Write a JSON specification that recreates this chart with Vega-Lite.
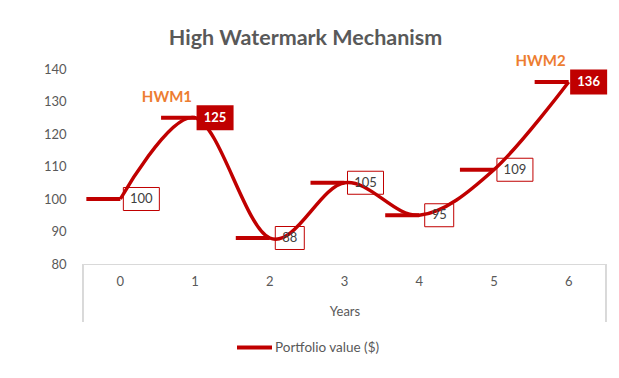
{
  "$schema": "https://vega.github.io/schema/vega-lite/v6.json",
  "width": 523,
  "height": 195,
  "autosize": {"type": "none"},
  "padding": {"left": 83, "top": 69, "right": 13, "bottom": 114},
  "background": "white",
  "config": {"font": "Lato", "view": {"stroke": null}},
  "title": {"text": "High Watermark Mechanism", "fontSize": 21.5, "fontWeight": "bold", "color": "#595959", "frame": "group", "anchor": "middle", "dx": -39, "offset": 5},
  "data": {"values": [
    {"year": 0, "value": 100, "note": "", "series": "Portfolio value ($)"},
    {"year": 1, "value": 125, "note": "HWM1", "series": "Portfolio value ($)"},
    {"year": 2, "value": 88, "note": "", "series": "Portfolio value ($)"},
    {"year": 3, "value": 105, "note": "", "series": "Portfolio value ($)"},
    {"year": 4, "value": 95, "note": "", "series": "Portfolio value ($)"},
    {"year": 5, "value": 109, "note": "", "series": "Portfolio value ($)"},
    {"year": 6, "value": 136, "note": "HWM2", "series": "Portfolio value ($)"}
  ]},
  "encoding": {
    "x": {"field": "year", "type": "ordinal",
      "scale": {"type": "band", "paddingInner": 0, "paddingOuter": 0},
      "axis": {"title": "Years", "labelAngle": 0, "domainColor": "#D9D9D9", "ticks": false, "tickSize": 0, "labelPadding": 11, "labelFontSize": 13, "labelColor": "#595959", "titleFontSize": 13, "titleFontWeight": "normal", "titleColor": "#595959", "titlePadding": 17, "grid": false}},
    "y": {"field": "value", "type": "quantitative",
      "scale": {"domain": [80, 140], "nice": false, "zero": false},
      "axis": {"title": null, "values": [80, 90, 100, 110, 120, 130, 140], "domain": false, "ticks": false, "tickSize": 0, "labelPadding": 17, "labelFontSize": 13, "labelColor": "#595959", "grid": false}}
  },
  "layer": [
    {"mark": {"type": "rule", "color": "#D9D9D9", "strokeWidth": 1},
      "encoding": {"x": {"datum": 0, "type": "ordinal", "bandPosition": 0}, "y": {"datum": 80}, "y2": {"datum": 62.2}}},
    {"mark": {"type": "rule", "color": "#D9D9D9", "strokeWidth": 1},
      "encoding": {"x": {"datum": 6, "type": "ordinal", "bandPosition": 1}, "y": {"datum": 80}, "y2": {"datum": 62.2}}},
    {"transform": [{"filter": "datum.value >= 100 && datum.note == ''"}],
      "mark": {"type": "point", "shape": "M-1,-0.639L1,-0.639L1,0.639L-1,0.639Z", "filled": false, "stroke": "#C00000", "strokeWidth": 1, "opacity": 1, "size": 1296, "xOffset": 21}},
    {"transform": [{"filter": "datum.value < 100"}],
      "mark": {"type": "point", "shape": "M-1,-0.793L1,-0.793L1,0.793L-1,0.793Z", "filled": false, "stroke": "#C00000", "strokeWidth": 1, "opacity": 1, "size": 841, "xOffset": 20}},
    {"mark": {"type": "tick", "color": "#C00000", "thickness": 4, "size": 34, "xOffset": -17, "opacity": 1}},
    {"mark": {"type": "line", "interpolate": "cardinal", "strokeWidth": 3.5},
      "encoding": {"color": {"field": "series", "type": "nominal", "scale": {"range": ["#C00000"]},
        "legend": {"orient": "none", "legendX": 152, "legendY": 259, "title": null, "symbolType": "stroke", "symbolStrokeWidth": 4, "symbolSize": 1225, "labelFontSize": 13.5, "labelColor": "#595959", "labelOffset": 1}}}},
    {"transform": [{"filter": "datum.note != ''"}],
      "mark": {"type": "point", "shape": "M-1,-0.676L1,-0.676L1,0.676L-1,0.676Z", "filled": true, "color": "#C00000", "opacity": 1, "size": 1369, "xOffset": 20}},
    {"transform": [{"filter": "datum.value >= 100 && datum.note == ''"}],
      "mark": {"type": "text", "xOffset": 21, "color": "#404040", "fontSize": 13},
      "encoding": {"text": {"field": "value", "type": "quantitative"}}},
    {"transform": [{"filter": "datum.value < 100"}],
      "mark": {"type": "text", "xOffset": 20, "color": "#404040", "fontSize": 13},
      "encoding": {"text": {"field": "value", "type": "quantitative"}}},
    {"transform": [{"filter": "datum.note != ''"}],
      "mark": {"type": "text", "xOffset": 20, "color": "white", "fontSize": 13, "fontWeight": "bold"},
      "encoding": {"text": {"field": "value", "type": "quantitative"}}},
    {"transform": [{"filter": "datum.note != ''"}],
      "mark": {"type": "text", "color": "#ED7D31", "fontSize": 15, "fontWeight": "bold", "align": "right", "dx": -3, "dy": -21},
      "encoding": {"text": {"field": "note", "type": "nominal"}}}
  ]
}
